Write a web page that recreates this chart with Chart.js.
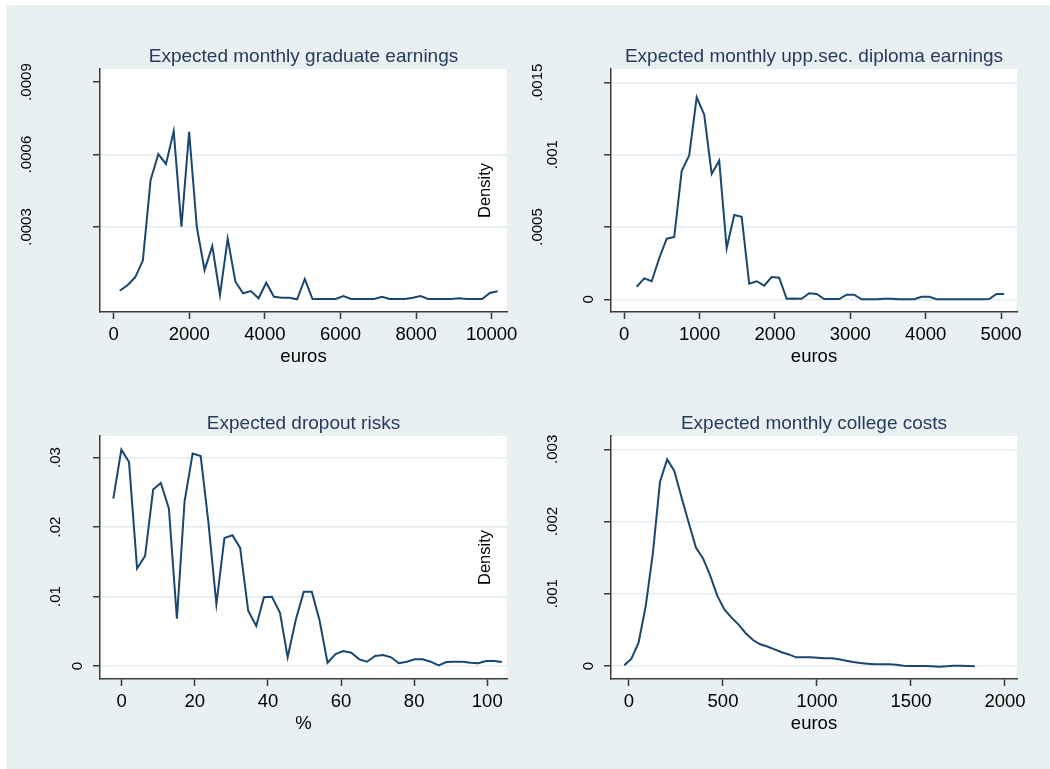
<!DOCTYPE html>
<html>

<head>
  <meta charset="UTF-8" />
  <meta name="viewport" content="width=device-width" />
  <title>Expected earnings, dropout risks and college costs</title>
  <script src="https://cdn.jsdelivr.net/npm/chart.js@4.4.1/dist/chart.umd.min.js"></script>
  <style>
    html, body { margin: 0; padding: 0; background: #fff; }
    #wrap { position: relative; width: 1050px; height: 769px; background: #fff; overflow: hidden; }
    #bg { position: absolute; left: 6px; top: 5px; right: 0; bottom: 0; background: #e8f0f2; }
    canvas { position: absolute; }
  </style>
</head>

<body>
  <div id="wrap">
    <div id="bg"></div>
    <canvas id="grad" width="525" height="385" style="left:0;top:0"></canvas>
    <canvas id="dipl" width="525" height="385" style="left:525px;top:0"></canvas>
    <canvas id="drop" width="525" height="384" style="left:0;top:385px"></canvas>
    <canvas id="cost" width="525" height="384" style="left:525px;top:385px"></canvas>
  </div>
  <script>
    // expected monthly graduate earnings (euros) - density
    const gradX = [160, 364, 568, 772, 976, 1180, 1384, 1588, 1792, 1996, 2200, 2404, 2608, 2812, 3016, 3220, 3424, 3628, 3832, 4036,
      4240, 4444, 4648, 4852, 5056, 5260, 5464, 5668, 5872, 6076, 6280, 6484, 6688, 6892, 7096, 7300, 7504, 7708, 7912, 8116,
      8320, 8524, 8728, 8932, 9136, 9340, 9544, 9748, 9952, 10156];
    const gradY = [0.0000364, 0.0000588, 0.0000919, 0.000161, 0.000494, 0.000602, 0.000561, 0.000697, 0.000301, 0.000694,
      0.000299, 0.000122, 0.000221, 0.0000186, 0.000252, 0.0000737, 0.0000257, 0.0000352, 0.000005, 0.0000695,
      0.0000116, 0.0000074, 0.0000074, 0.000001, 0.0000848, 0.000002, 0.000002, 0.000002, 0.000002, 0.0000145,
      0.000002, 0.000002, 0.000002, 0.000002, 0.0000116, 0.000002, 0.000002, 0.000002, 0.0000074, 0.0000145,
      0.000002, 0.000002, 0.000002, 0.000002, 0.000005, 0.000002, 0.000002, 0.000002, 0.0000269, 0.0000339];
    const gradXTicks = [0, 2000, 4000, 6000, 8000, 10000];
    const gradYTicks = [0.0003, 0.0006, 0.0009];
    const gradYLabels = ['.0003', '.0006', '.0009'];

    // expected monthly upper secondary diploma earnings
    const diplX = [165, 265, 364, 464, 563, 663, 762, 862, 961, 1061, 1160, 1260, 1359, 1459, 1558, 1658, 1757, 1857, 1956, 2056,
      2155, 2255, 2354, 2454, 2553, 2653, 2752, 2852, 2951, 3051, 3150, 3250, 3349, 3449, 3548, 3648, 3747, 3847, 3946, 4046,
      4145, 4245, 4344, 4444, 4543, 4643, 4742, 4842, 4941, 5041];
    const diplY = [0.0000871, 0.000145, 0.000125, 0.000284, 0.000419, 0.000431, 0.000887, 0.000996, 0.001397, 0.001277,
      0.000867, 0.000959, 0.000353, 0.000583, 0.000571, 0.000108, 0.000125, 0.0000941, 0.000154, 0.000149,
      0.000004, 0.0000055, 0.000004, 0.0000415, 0.0000367, 0.000002, 0.000002, 0.000002, 0.0000318, 0.0000318,
      0, 0, 0, 0.000004, 0.000004, 0, 0, 0, 0.000018, 0.000018,
      0, 0, 0, 0, 0, 0, 0, 0.000002, 0.0000367, 0.0000367];
    const diplXTicks = [0, 1000, 2000, 3000, 4000, 5000];
    const diplYTicks = [0, 0.0005, 0.001, 0.0015];
    const diplYLabels = ['0', '.0005', '.001', '.0015'];

    // expected dropout risks (%)
    const dropX = [-2.3, -0.1, 2.0, 4.2, 6.4, 8.6, 10.7, 12.9, 15.1, 17.2, 19.4, 21.6, 23.7, 25.9, 28.1, 30.3, 32.4, 34.6, 36.8, 38.9,
      41.1, 43.3, 45.4, 47.6, 49.8, 52.0, 54.1, 56.3, 58.5, 60.6, 62.8, 65.0, 67.1, 69.3, 71.5, 73.7, 75.8, 78.0, 80.2, 82.3,
      84.5, 86.7, 88.8, 91.0, 93.2, 95.4, 97.5, 99.7, 101.9, 104.0];
    const dropY = [0.0241, 0.03114, 0.02935, 0.01404, 0.01585, 0.02539, 0.02634, 0.02266, 0.0068, 0.02371,
      0.03056, 0.03022, 0.02073, 0.00891, 0.01843, 0.01882, 0.017, 0.00795, 0.00575, 0.00991,
      0.00995, 0.00766, 0.00125, 0.00661, 0.01068, 0.01068, 0.00661, 0.00047, 0.00172, 0.00216,
      0.00191, 0.00096, 0.00062, 0.00144, 0.00158, 0.00125, 0.00039, 0.00062, 0.00096, 0.00096,
      0.00062, 0.0001, 0.00057, 0.00062, 0.00062, 0.00047, 0.00039, 0.00072, 0.00072, 0.00057];
    const dropXTicks = [0, 20, 40, 60, 80, 100];
    const dropYTicks = [0, 0.01, 0.02, 0.03];
    const dropYLabels = ['0', '.01', '.02', '.03'];

    // expected monthly college costs
    const costX = [-25, 13, 51, 89, 127, 165, 203, 241, 279, 318, 356, 394, 432, 470, 508, 546, 584, 622, 660, 698,
      736, 774, 812, 850, 889, 927, 965, 1003, 1041, 1079, 1117, 1155, 1193, 1231, 1269, 1307, 1345, 1384, 1422, 1460,
      1498, 1536, 1574, 1612, 1650, 1688, 1726, 1764, 1802, 1840];
    const costY = [0.0000092, 0.000102, 0.000323, 0.000831, 0.00156, 0.00255, 0.00286, 0.0027, 0.00234, 0.00198,
      0.00164, 0.00149, 0.00125, 0.00097, 0.00078, 0.00067, 0.00057, 0.00045, 0.00036, 0.0003,
      0.00027, 0.00023, 0.00019, 0.00016, 0.00012, 0.00012, 0.00012, 0.000115, 0.000106, 0.000106,
      0.000092, 0.000074, 0.000055, 0.000042, 0.000032, 0.000023, 0.000023, 0.000023, 0.000018, 0.000005,
      0, 0, 0, -0.000005, -0.000009, -0.000005, 0.000005, 0.000005, 0, -0.000005];
    const costXTicks = [0, 500, 1000, 1500, 2000];
    const costYTicks = [0, 0.001, 0.002, 0.003];
    const costYLabels = ['0', '.001', '.002', '.003'];

    const FONT = '"Liberation Sans", Arial, sans-serif';
    const NAVY = '#1a476f';
    const AXIS = '#3a3a3a';
    const GRID = '#e3ecef';

    // white plot region, titles, rotated y labels (stata style)
    const stataText = {
      id: 'stataText',
      beforeDraw(chart) {
        const a = chart.chartArea, ctx = chart.ctx;
        ctx.save();
        ctx.fillStyle = '#fff';
        ctx.fillRect(a.left, a.top, a.right - a.left, a.bottom - a.top);
        ctx.restore();
      },
      afterDraw(chart, args, opts) {
        const a = chart.chartArea, ctx = chart.ctx, ys = chart.scales.y;
        const mid = (a.left + a.right) / 2;
        ctx.save();
        ctx.textAlign = 'center';
        ctx.textBaseline = 'alphabetic';
        ctx.font = '19px ' + FONT;
        ctx.fillStyle = '#263a5e';
        ctx.fillText(opts.title, mid, a.top - 7);
        ctx.font = '18.5px ' + FONT;
        ctx.fillStyle = '#000';
        ctx.fillText(opts.xTitle, mid, a.bottom + 49.7);

        ctx.font = '15px ' + FONT;
        ctx.textBaseline = 'middle';
        ys.ticks.forEach((t, i) => {
          const label = opts.yLabels[i];
          const w = ctx.measureText(label).width;
          ctx.save();
          ctx.translate(a.left - (7 + 1.76 * w), ys.getPixelForValue(t.value));
          ctx.rotate(-Math.PI / 2);
          ctx.fillText(label, 0, 0);
          ctx.restore();
        });

        if (opts.density) {
          ctx.font = '16.5px ' + FONT;
          ctx.save();
          ctx.translate(a.right - 21.5, (a.top + a.bottom) / 2);
          ctx.rotate(-Math.PI / 2);
          ctx.fillText('Density', 0, 0);
          ctx.restore();
        }
        ctx.restore();
      }
    };

    function makeChart(id, p) {
      const topTick = p.yTicks[p.yTicks.length - 1];
      return new Chart(document.getElementById(id), {
        type: 'line',
        data: {
          datasets: [{
            data: p.xs.map((x, i) => ({ x: x, y: p.ys[i] })),
            borderColor: NAVY,
            borderWidth: 2,
            pointRadius: 0,
            tension: 0,
            fill: false
          }]
        },
        options: {
          responsive: false,
          animation: false,
          events: [],
          layout: { padding: p.pad },
          plugins: {
            legend: { display: false },
            tooltip: { enabled: false },
            stataText: { title: p.title, xTitle: p.xTitle, yLabels: p.yLabels, density: p.density }
          },
          scales: {
            x: {
              type: 'linear',
              min: p.xMin,
              max: p.xMax,
              afterBuildTicks: ax => { ax.ticks = p.xTicks.map(v => ({ value: v })); },
              afterFit: s => { s.height = p.xH; },
              ticks: { callback: v => String(v), color: '#000', font: { family: FONT, size: 18.5 }, padding: 5, maxRotation: 0, autoSkip: false },
              grid: { drawOnChartArea: false, tickLength: 7, tickColor: AXIS, tickWidth: 1.5 },
              border: { color: AXIS, width: 1.5 }
            },
            y: {
              type: 'linear',
              min: p.yMin,
              max: p.yMax,
              afterBuildTicks: ax => { ax.ticks = p.yTicks.map(v => ({ value: v })); },
              afterFit: s => { s.width = p.yW; },
              ticks: { display: false },
              grid: {
                color: c => (p.noTopGrid && c.tick && c.tick.value === topTick) ? 'rgba(0,0,0,0)' : GRID,
                lineWidth: 1.5,
                tickLength: 7,
                tickColor: AXIS,
                tickWidth: 1.5
              },
              border: { color: AXIS, width: 1.5 }
            }
          }
        },
        plugins: [stataText]
      });
    }

    makeChart('grad', {
      xs: gradX, ys: gradY, xTicks: gradXTicks, yTicks: gradYTicks, yLabels: gradYLabels,
      title: 'Expected monthly graduate earnings', xTitle: 'euros', density: true, noTopGrid: true,
      xMin: -362, xMax: 10405, yMin: -0.0000517, yMax: 0.000954,
      pad: { left: 0, top: 69, right: 18, bottom: 0 }, yW: 100, xH: 73
    });
    makeChart('dipl', {
      xs: diplX, ys: diplY, xTicks: diplXTicks, yTicks: diplYTicks, yLabels: diplYLabels,
      title: 'Expected monthly upp.sec. diploma earnings', xTitle: 'euros', density: false,
      xMin: -176, xMax: 5212, yMin: -0.0000878, yMax: 0.001593,
      pad: { left: 0, top: 69, right: 33, bottom: 0 }, yW: 86, xH: 73
    });
    makeChart('drop', {
      xs: dropX, ys: dropY, xTicks: dropXTicks, yTicks: dropYTicks, yLabels: dropYLabels,
      title: 'Expected dropout risks', xTitle: '%', density: true,
      xMin: -5.94, xMax: 105.4, yMin: -0.00187, yMax: 0.0331,
      pad: { left: 0, top: 51, right: 18, bottom: 0 }, yW: 100, xH: 90
    });
    makeChart('cost', {
      xs: costX, ys: costY, xTicks: costXTicks, yTicks: costYTicks, yLabels: costYLabels,
      title: 'Expected monthly college costs', xTitle: 'euros', density: false,
      xMin: -95.7, xMax: 2064, yMin: -0.00018, yMax: 0.003184,
      pad: { left: 0, top: 51, right: 33, bottom: 0 }, yW: 86, xH: 90
    });
  </script>
</body>

</html>
